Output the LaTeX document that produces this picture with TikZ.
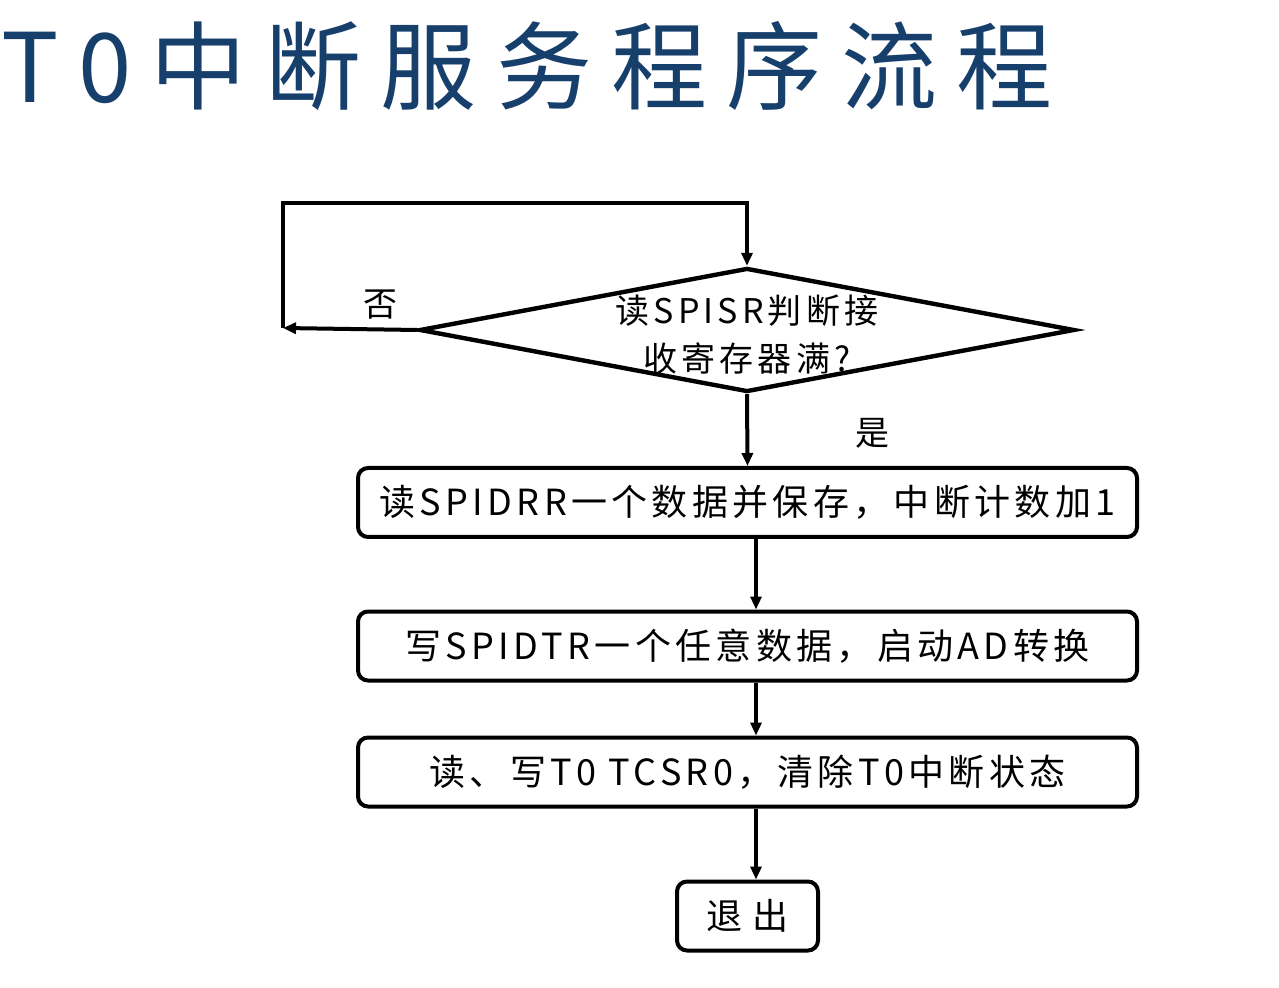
\documentclass[tikz,border=0pt]{standalone}
\usepackage{fontspec}
\usepackage{xcolor}
\setmainfont{Noto Sans CJK SC}
\newfontfamily\titlefont[LetterSpace=20]{Noto Sans CJK SC}
\newfontfamily\boxfont[LetterSpace=12]{Noto Sans CJK SC}
\usetikzlibrary{shapes.geometric,arrows.meta}
\definecolor{titleblue}{RGB}{23,63,107}
\tikzset{
  stepbox/.style={draw, line width=2pt, rounded corners=5pt, minimum width=389.5pt, minimum height=34.5pt, inner sep=0pt, font=\boxfont\fontsize{18}{20}\selectfont},
  flow/.style={-{Triangle[length=6.5pt,width=5.5pt]}, line width=2pt},
}

\begin{document}
\begin{tikzpicture}[x=0.5pt,y=-0.5pt]
            \useasboundingbox (0,0) rectangle (1279,988);
            \node[anchor=west, inner sep=0pt, text=titleblue, font=\titlefont\fontsize{48}{52}\selectfont] (title) at (1,66) {T0中断服务程序流程};
            % decision
            \node[draw, diamond, line width=2.2pt, minimum width=327.5pt, minimum height=62pt, inner sep=0pt,
                  label={[align=center, yshift=-2.5pt, font=\boxfont\fontsize{17}{24}\selectfont]center:读SPISR判断接\\收寄存器满?}] (check) at (747,330) {};
            \node[draw=none, font=\fontsize{17}{20}\selectfont] (no) at (380,305) {否};
            \node[draw=none, font=\fontsize{17}{20}\selectfont] (yes) at (872,433) {是};
            % steps
            \node[stepbox] (read) at (747.5,502.5) {读SPIDRR一个数据并保存，中断计数加1};
            \node[stepbox] (write) at (747.5,646) {写SPIDTR一个任意数据，启动AD转换};
            \node[stepbox] (clear) at (747.5,772) {读、写T0 TCSR0，清除T0中断状态};
            \node[stepbox, minimum width=70.5pt, font=\boxfont\fontsize{18}{20}\selectfont\addfontfeature{LetterSpace=30}] (exit) at (747.5,916) {退出};
            % connectors
            \coordinate (loopbl) at (283,328);
            \coordinate (looptl) at (283,203);
            \coordinate (ax) at (756,0);
            \draw[flow] (check.west) -- (loopbl);
            \draw[flow] (loopbl) -- (looptl) -| (check.north);
            \draw[flow] (check.south) -- (read.north);
            \draw[flow] (read.south -| ax) -- (write.north -| ax);
            \draw[flow] (write.south -| ax) -- (clear.north -| ax);
            \draw[flow] (clear.south -| ax) -- (exit.north -| ax);
        \end{tikzpicture}
\end{document}
